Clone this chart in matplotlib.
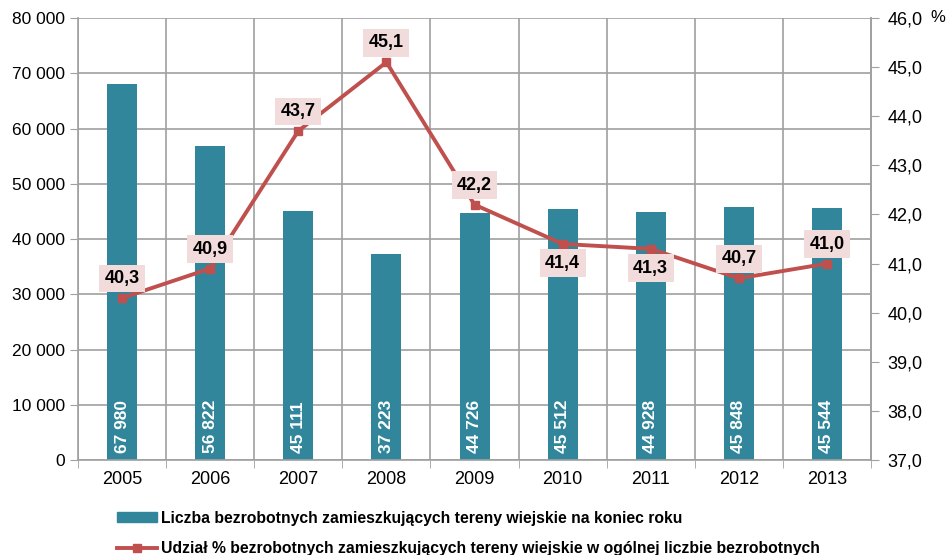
import numpy as np
import matplotlib.pyplot as plt
from matplotlib.ticker import FuncFormatter
from matplotlib.patches import Patch
from matplotlib.lines import Line2D

plt.rcParams['font.family'] = ['Liberation Sans', 'DejaVu Sans']

years = ['2005', '2006', '2007', '2008', '2009', '2010', '2011', '2012', '2013']
liczba = [67980, 56822, 45111, 37223, 44726, 45512, 44928, 45848, 45544]
udzial = [40.3, 40.9, 43.7, 45.1, 42.2, 41.4, 41.3, 40.7, 41.0]
# label above (1) or below (-1) the point
label_side = [1, 1, 1, 1, 1, -1, -1, 1, 1]

bar_color = '#31869B'
line_color = '#C0504D'
grid_color = '#A0A0A0'

fig = plt.figure(figsize=(9.48, 5.55), dpi=100)
ax = fig.add_axes([0.0823, 0.171, 0.8365, 0.7966])
ax2 = ax.twinx()

x = np.arange(len(years))
ax.bar(x, liczba, width=0.34, color=bar_color, zorder=2)
for xi, v in zip(x, liczba):
    s = '{:,}'.format(v).replace(',', ' ')
    ax.text(xi, 1300, s, rotation=90, ha='center', va='bottom',
            color='white', fontsize=12.5, fontweight='bold', zorder=3)

ax.set_xlim(-0.5, len(years) - 0.5)
ax.set_ylim(0, 80000)
ax.set_yticks(np.arange(0, 80001, 10000))
ax.yaxis.set_major_formatter(FuncFormatter(lambda v, p: '{:,}'.format(int(v)).replace(',', ' ')))
ax.set_xticks(x)
ax.set_xticklabels(years)
ax.set_xticks(np.arange(-0.5, len(years), 1), minor=True)
ax.tick_params(axis='x', which='major', length=0, pad=8, labelsize=13)
ax.tick_params(axis='x', which='minor', length=6, color=grid_color)
ax.tick_params(axis='y', length=6, color=grid_color, labelsize=12.5)
ax.grid(axis='y', color=grid_color, lw=1.2, zorder=0)
ax.grid(axis='x', which='minor', color=grid_color, lw=1.2, zorder=0)
ax.set_axisbelow(True)
ax.spines['top'].set_visible(False)
for sp in ['left', 'bottom', 'right']:
    ax.spines[sp].set_color(grid_color)
    ax.spines[sp].set_linewidth(1.2)

ax2.plot(x, udzial, color=line_color, lw=2.8, marker='s', markersize=6, zorder=5)
ax2.set_ylim(37, 46)
ax2.set_yticks(np.arange(37, 46.01, 1))
ax2.yaxis.set_major_formatter(FuncFormatter(lambda v, p: '{:.1f}'.format(v).replace('.', ',')))
ax2.tick_params(axis='y', length=6, color=grid_color, labelsize=13, pad=6)
for sp in ['top', 'left', 'bottom']:
    ax2.spines[sp].set_visible(False)
ax2.spines['right'].set_color(grid_color)
ax2.spines['right'].set_linewidth(1.2)

for xi, v, side in zip(x, udzial, label_side):
    ax2.annotate('{:.1f}'.format(v).replace('.', ','), (xi, v),
                 xytext=(0, 14 * side), textcoords='offset points',
                 ha='center', va='center', fontsize=13, fontweight='bold',
                 bbox=dict(boxstyle='square,pad=0.3', fc='#F2DCDB', ec='none'),
                 zorder=6)

fig.text(0.997, 0.968, '%', ha='right', va='center', fontsize=12)

handles = [Patch(color=bar_color),
           Line2D([0], [0], color=line_color, lw=2.8, marker='s', markersize=6)]
labels = ['Liczba bezrobotnych zamieszkujących tereny wiejskie na koniec roku',
          'Udział % bezrobotnych zamieszkujących tereny wiejskie w ogólnej liczbie bezrobotnych']
fig.legend(handles, labels, loc='lower left', bbox_to_anchor=(0.109, -0.027),
           frameon=False, prop={'weight': 'bold', 'size': 11.3},
           handlelength=2.55, handleheight=0.6, handletextpad=0.2, labelspacing=0.95)

fig.savefig('out.png', dpi=100)
